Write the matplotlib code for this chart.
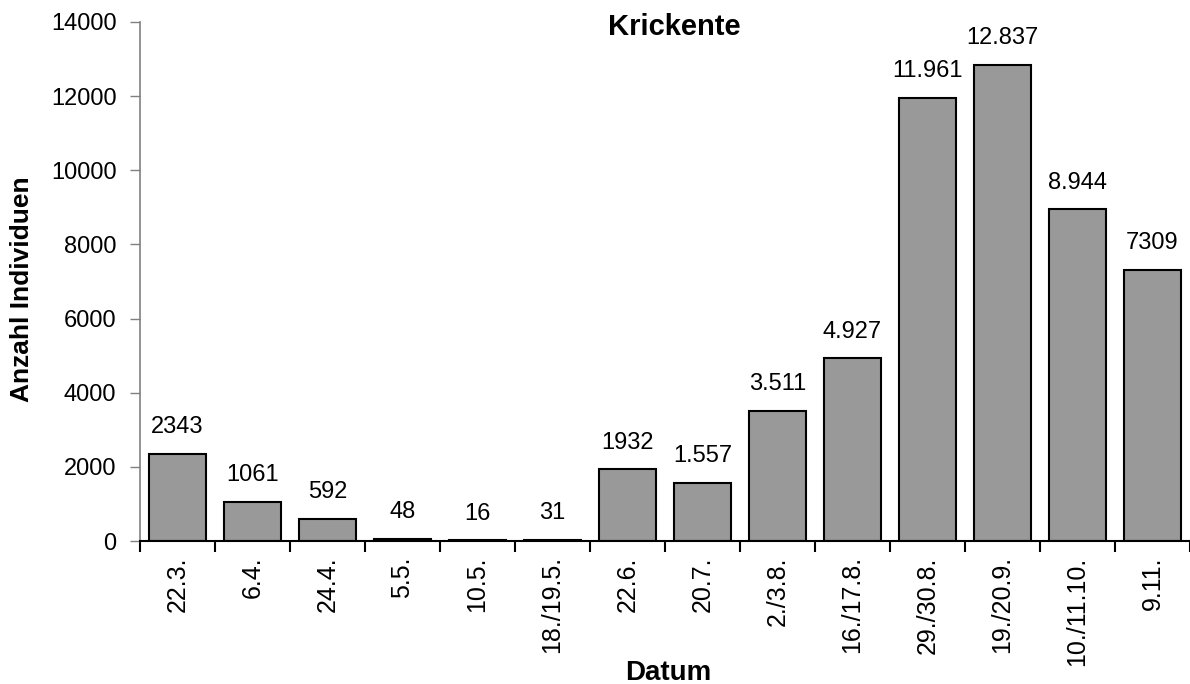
import numpy as np
import matplotlib
matplotlib.use("Agg")
import matplotlib.pyplot as plt

plt.rcParams['font.family'] = ['Liberation Sans', 'DejaVu Sans']

dates = ['22.3.', '6.4.', '24.4.', '5.5.', '10.5.', '18./19.5.', '22.6.', '20.7.',
         '2./3.8.', '16./17.8.', '29./30.8.', '19./20.9.', '10./11.10.', '9.11.']
counts = [2343, 1061, 592, 48, 16, 31, 1932, 1557, 3511, 4927, 11961, 12837, 8944, 7309]
labels = ['2343', '1061', '592', '48', '16', '31', '1932', '1.557', '3.511', '4.927',
          '11.961', '12.837', '8.944', '7309']

fig = plt.figure(figsize=(11.9, 6.84), dpi=100)
ax = fig.add_axes([140 / 1190, 143 / 684, 1 - 140 / 1190, (541 - 22) / 684])

x = np.arange(len(dates))
ax.bar(x, counts, width=0.77, color='#999999', edgecolor='black', linewidth=1.5, zorder=2)

for xi, c, lab in zip(x, counts, labels):
    ax.annotate(lab, (xi, c), xytext=(0, 15), textcoords='offset points',
                ha='center', va='baseline', fontsize=17)

ax.set_xlim(-0.5, len(dates) - 0.5)
ax.set_ylim(0, 14000)
ax.set_yticks(np.arange(0, 14001, 2000))
ax.tick_params(axis='y', labelsize=17, length=7, width=1, color='#808080', pad=10)

ax.set_xticks(x)
ax.set_xticklabels(dates, rotation=90, fontsize=18)
ax.tick_params(axis='x', length=0, pad=11)
ax.set_xticks(np.arange(-0.5, len(dates), 1), minor=True)
ax.tick_params(axis='x', which='minor', length=8, width=1.5, color='black')

for s in ['top', 'right']:
    ax.spines[s].set_visible(False)
ax.spines['left'].set_color('#808080')
ax.spines['left'].set_linewidth(1.2)
ax.spines['bottom'].set_linewidth(1.5)

fig.text(674 / 1190, 1 - 35 / 684, 'Krickente', ha='center', va='baseline',
         fontsize=21, fontweight='bold')
fig.text(668 / 1190, 4 / 684, 'Datum', ha='center', va='baseline',
         fontsize=20, fontweight='bold')
fig.text(22 / 1190, 1 - 289 / 684, 'Anzahl Individuen', ha='center', va='center',
         rotation=90, fontsize=19, fontweight='bold')

fig.savefig('out.png', dpi=100)
